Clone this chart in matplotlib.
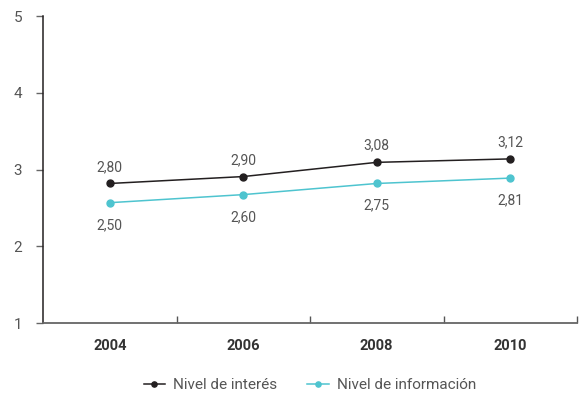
import matplotlib
matplotlib.use("Agg")
import matplotlib.pyplot as plt

years = ["2004", "2006", "2008", "2010"]
interes = [2.82, 2.91, 3.095, 3.14]
informacion = [2.57, 2.675, 2.82, 2.89]
interes_labels = ["2,80", "2,90", "3,08", "3,12"]
informacion_labels = ["2,50", "2,60", "2,75", "2,81"]
yticks = [1, 2, 3, 4, 5]

plt.rcParams['font.family'] = ['Roboto', 'DejaVu Sans']

fig = plt.figure(figsize=(5.79, 3.94), dpi=100)
ax = fig.add_axes([43/579, (394-323.3)/394, (577-43)/579, (323.3-16)/394])

black = "#231f20"
cyan = "#4ec4cf"
x = list(range(len(years)))

ax.plot(x, interes, color=black, lw=1.1, marker='o', ms=5, label="Nivel de interés", zorder=3)
ax.plot(x, informacion, color=cyan, lw=1.1, marker='o', ms=5, label="Nivel de información", zorder=3)

for xi, v, t in zip(x, interes, interes_labels):
    ax.annotate(t, (xi, v), xytext=(0, 12), textcoords='offset points', ha='center', va='center',
                fontsize=10, color="#555555")
for xi, v, t in zip(x, informacion, informacion_labels):
    ax.annotate(t, (xi, v), xytext=(0, -16), textcoords='offset points', ha='center', va='center',
                fontsize=10, color="#555555")

ax.set_xlim(-0.5, len(years) - 0.5)
ax.set_ylim(1, 5)
ax.set_yticks(yticks)
ax.set_yticklabels([str(v) for v in yticks], fontsize=11, color="#555555")
ax.tick_params(axis='y', direction='out', length=5, width=1, color="#666666", pad=10)

ax.set_xticks([i + 0.5 for i in x])
ax.set_xticklabels([])
ax.set_xticks(x, minor=True)
ax.set_xticklabels(years, minor=True, fontsize=10.5, fontweight='bold', color="#333333")
ax.tick_params(axis='x', which='major', direction='in', length=5, width=1, color="#555555")
ax.tick_params(axis='x', which='minor', length=0, pad=11)

ax.spines['top'].set_visible(False)
ax.spines['right'].set_visible(False)
ax.spines['left'].set_color(black)
ax.spines['left'].set_linewidth(1.1)
ax.spines['bottom'].set_color("#666666")
ax.spines['bottom'].set_linewidth(1.3)

leg = fig.legend(loc='lower center', bbox_to_anchor=(0.535, -0.03), ncol=2, frameon=False,
                 fontsize=11, handlelength=1.4, columnspacing=2.0, handletextpad=0.5,
                 labelcolor="#555555", markerscale=0.75)

fig.savefig("out.png", dpi=100)
